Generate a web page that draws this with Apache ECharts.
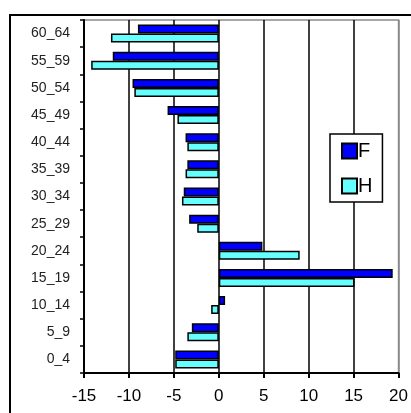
<!DOCTYPE html>
<html>
<head>
<meta charset="utf-8">
<script src="https://cdn.jsdelivr.net/npm/echarts@6/dist/echarts.min.js"></script>
<style>html,body{margin:0;padding:0;background:#fff}#c{width:411px;height:413px}</style>
</head>
<body>
<div id="c"></div>
<script>
const categories = ['0_4','5_9','10_14','15_19','20_24','25_29','30_34','35_39','40_44','45_49','50_54','55_59','60_64'];
const valuesF = [-4.85, -3.0, 0.7, 19.35, 4.85, -3.3, -3.9, -3.5, -3.7, -5.7, -9.6, -11.8, -9.0];
const valuesH = [-4.85, -3.5, -0.85, 15.1, 9.0, -2.4, -4.1, -3.7, -3.5, -4.6, -9.4, -14.2, -12.0];
const xTicks = { min: -15, max: 20, interval: 5 };

const chart = echarts.init(document.getElementById('c'), null, { renderer: 'canvas' });
const font = 'Liberation Sans, Arial, sans-serif';
chart.setOption({
  animation: false,
  backgroundColor: '#fff',
  graphic: [{
    type: 'rect', shape: { x: 10, y: 15, width: 500, height: 500 },
    style: { fill: 'none', stroke: '#000', lineWidth: 2 }, z: -10
  }],
  grid: { left: 84, right: 9, top: 20, bottom: 40, show: true, borderColor: '#8a8a8a', borderWidth: 1.5, backgroundColor: 'transparent' },
  legend: {
    data: ['F', 'H'], orient: 'vertical', left: 330, top: 134,
    itemWidth: 15, itemHeight: 15, itemGap: 15, icon: 'rect',
    padding: [7, 10, 6, 11],
    borderColor: '#000', borderWidth: 1.5, backgroundColor: '#fff',
    textStyle: { fontFamily: font, fontSize: 20, color: '#000', padding: [0, 0, 0, -4] }
  },
  xAxis: {
    type: 'value', min: xTicks.min, max: xTicks.max, interval: xTicks.interval,
    axisLine: { show: true, onZero: false, lineStyle: { color: '#000', width: 2 } },
    axisTick: { show: true, length: 5, lineStyle: { color: '#000', width: 2 } },
    axisLabel: { fontFamily: font, fontSize: 17, color: '#000', margin: 15 },
    splitLine: { show: true, lineStyle: { color: ['#8a8a8a', '#000', '#000', '#000', '#000', '#000', '#000', '#8a8a8a'], width: 1.5 } }
  },
  yAxis: [{
    type: 'category', data: categories, position: 'left',
    axisLine: { show: false }, axisTick: { show: false },
    axisLabel: { fontFamily: font, fontSize: 14, color: '#222', margin: 14 }
  }, {
    type: 'category', data: categories, position: 'left',
    axisLine: { show: true, onZero: true, lineStyle: { color: '#000', width: 2 } },
    axisTick: { show: true, length: 4, inside: false, lineStyle: { color: '#000', width: 1.5 } },
    axisLabel: { show: false }
  }],
  series: [{
    name: 'F', type: 'bar', data: valuesF, yAxisIndex: 0,
    barWidth: 9, barGap: '0%',
    itemStyle: { color: '#0000FF', borderColor: '#000', borderWidth: 1.5 }
  }, {
    name: 'H', type: 'bar', data: valuesH, yAxisIndex: 0,
    barWidth: 9, barGap: '0%',
    itemStyle: { color: '#66FFFF', borderColor: '#000', borderWidth: 1.5 }
  }]
});
</script>
</body>
</html>
